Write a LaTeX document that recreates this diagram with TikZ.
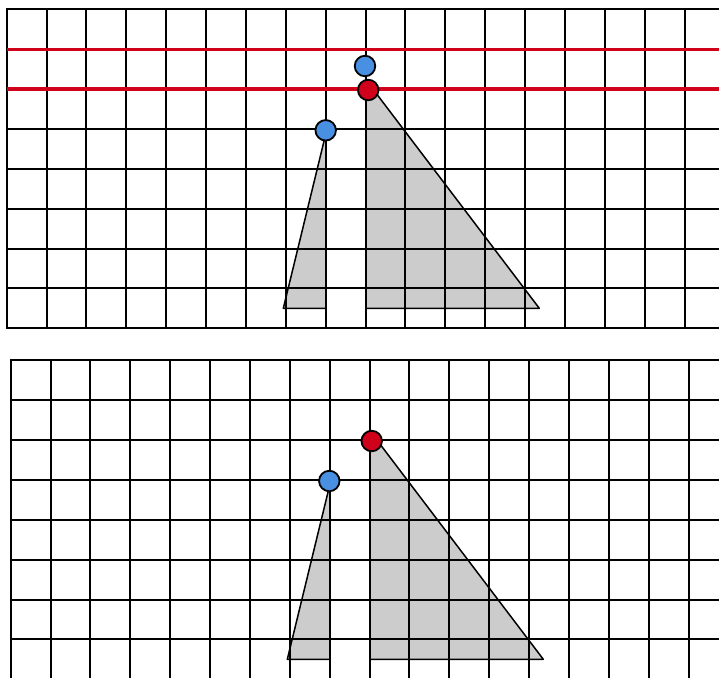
\documentclass[tikz,border=0pt]{standalone}
\definecolor{redl}{HTML}{D0021B}
\definecolor{bluec}{HTML}{4A90E2}
\definecolor{grayf}{HTML}{CCCCCC}
\begin{document}
\begin{tikzpicture}[x=1pt,y=-1pt,
  gridline/.style={black,line width=2pt,line cap=rect},
  redline/.style={redl,line width=3.2pt},
  trifill/.style={fill=grayf,draw=none},
  triedge/.style={black,line width=1.5pt,line join=round},
  dot/.style={circle,draw=black,line width=1.8pt,minimum size=20.5pt,inner sep=0pt},
  bdot/.style={dot,fill=bluec},
  rdot/.style={dot,fill=redl}]
\useasboundingbox (0,0) rectangle (719,677);
\clip (0,0) rectangle (719,677);
% ---------- top panel ----------
\begin{scope}[shift={(6.7,9.3)}]
  \coordinate (ta1) at (276.6,299);
  \coordinate (ta2) at (318.8,299);
  \coordinate (ta3) at (318.8,125.7);
  \coordinate (tb1) at (358.8,70);
  \coordinate (tb2) at (532.6,299);
  \coordinate (tb3) at (358.8,299);
  \fill[trifill] (ta1) -- (ta2) -- (ta3) -- cycle;
  \fill[trifill] (tb1) -- (tb2) -- (tb3) -- cycle;
  \foreach \k in {0,...,17} \draw[gridline] (\k*39.87,0) -- (\k*39.87,318.96);
  \foreach \j in {0,...,8} \draw[gridline] (0,\j*39.87) -- (730,\j*39.87);
  \foreach \j in {1,2} \draw[redline] (0,\j*39.87) -- (730,\j*39.87);
  \draw[triedge] (ta2) -- (ta1) -- (ta3);
  \draw[triedge] (tb1) -- (tb2) -- (tb3);
  \node[bdot] (tblue1) at (358.3,56.7) {};
  \node[rdot] (tred) at (361.5,80.7) {};
  \node[bdot] (tblue2) at (319,121) {};
\end{scope}
% ---------- bottom panel ----------
\begin{scope}[shift={(10.7,360.3)}]
  \coordinate (ba1) at (276.6,299);
  \coordinate (ba2) at (318.8,299);
  \coordinate (ba3) at (318.8,125.7);
  \coordinate (bb1) at (358.8,70);
  \coordinate (bb2) at (532.6,299);
  \coordinate (bb3) at (358.8,299);
  \fill[trifill] (ba1) -- (ba2) -- (ba3) -- cycle;
  \fill[trifill] (bb1) -- (bb2) -- (bb3) -- cycle;
  \foreach \k in {0,...,17} \draw[gridline] (\k*39.87,0) -- (\k*39.87,340);
  \foreach \j in {0,...,8} \draw[gridline] (0,\j*39.87) -- (730,\j*39.87);
  \draw[triedge] (ba2) -- (ba1) -- (ba3);
  \draw[triedge] (bb1) -- (bb2) -- (bb3);
  \node[rdot] (bred) at (361,80.7) {};
  \node[bdot] (bblue) at (318.6,120.7) {};
\end{scope}
\end{tikzpicture}
\end{document}
